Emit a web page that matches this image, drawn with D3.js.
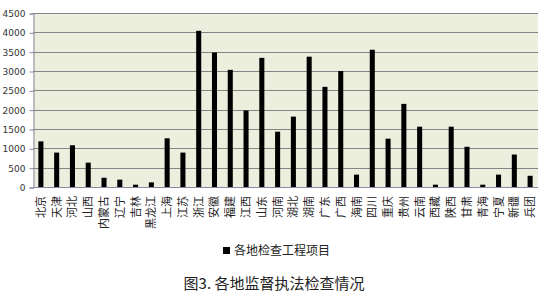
<!DOCTYPE html>
<html>
<head>
<meta charset="utf-8">
<script src="https://cdn.jsdelivr.net/npm/d3@7"></script>
<style>
  body { margin: 0; background: #fff; }
  svg text { font-family: "Noto Sans CJK SC", sans-serif; }
</style>
</head>
<body>
<svg width="548" height="299"></svg>
<script>
// provinces and counts of inspected projects
var provinces = ['北京', '天津', '河北', '山西', '内蒙古', '辽宁', '吉林', '黑龙江', '上海', '江苏',
    '浙江', '安徽', '福建', '江西', '山东', '河南', '湖北', '湖南', '广东', '广西', '海南',
    '四川', '重庆', '贵州', '云南', '西藏', '陕西', '甘肃', '青海', '宁夏', '新疆', '兵团']
var projects = [1180, 890, 1080, 630, 240, 190, 60, 120, 1260, 890,
    4040, 3480, 3030, 1980, 3340, 1430, 1820, 3370, 2590, 3000, 320,
    3550, 1250, 2150, 1560, 60, 1560, 1040, 60, 320, 840, 290]
var yTicks = [0, 500, 1000, 1500, 2000, 2500, 3000, 3500, 4000, 4500]

var svg = d3.select('svg')
var plotL = 33, plotR = 538, plotT = 13, plotB = 187

var x = d3.scaleBand()
    .domain(provinces)
    .range([plotL, plotR])
    .paddingInner(0.68)
    .paddingOuter(0.34)

var y = d3.scaleLinear()
    .domain([0, 4500])
    .range([plotB, plotT])

// plot area
svg.append('rect')
    .attr('x', plotL)
    .attr('y', plotT)
    .attr('width', plotR - plotL)
    .attr('height', plotB - plotT)
    .attr('fill', '#ECEEDE')

// gridlines
svg.append('g')
    .selectAll('line')
    .data(yTicks.slice(1))
    .enter()
    .append('line')
    .attr('x1', plotL)
    .attr('x2', plotR)
    .attr('y1', d => Math.round(y(d)) + 0.5)
    .attr('y2', d => Math.round(y(d)) + 0.5)
    .attr('stroke', '#858585')

// y axis
var yAxis = svg.append('g')
    .attr('transform', 'translate(' + (plotL + 0.5) + ',0.5)')
    .call(d3.axisLeft(y).tickValues(yTicks).tickSize(4).tickFormat(d3.format('d')))
yAxis.select('.domain').attr('stroke', '#8888a8')
yAxis.selectAll('.tick line').attr('stroke', '#8888a8')
yAxis.selectAll('text')
    .attr('x', -8)
    .style('font-family', '"DejaVu Sans", sans-serif')
    .style('font-size', '9px')
    .attr('fill', '#333')

// x axis line
svg.append('line')
    .attr('x1', plotL)
    .attr('x2', plotR)
    .attr('y1', plotB + 0.5)
    .attr('y2', plotB + 0.5)
    .attr('stroke', '#8888a8')

// bars
svg.append('g')
    .selectAll('rect')
    .data(projects)
    .enter()
    .append('rect')
    .attr('x', (d, i) => x(provinces[i]))
    .attr('width', x.bandwidth())
    .attr('y', d => y(d))
    .attr('height', d => plotB - y(d))
    .attr('fill', '#000')

// vertical category labels
svg.append('g')
    .selectAll('text')
    .data(provinces)
    .enter()
    .append('text')
    .text(d => d)
    .attr('transform', d => 'translate(' + (x(d) + x.bandwidth() / 2 + 4) + ',196) rotate(-90)')
    .style('text-anchor', 'end')
    .style('font-size', '11px')
    .attr('fill', '#222')

// legend
svg.append('rect')
    .attr('x', 223)
    .attr('y', 247)
    .attr('width', 7)
    .attr('height', 7)
    .attr('fill', '#000')

svg.append('text')
    .text('各地检查工程项目')
    .attr('x', 234)
    .attr('y', 255)
    .style('font-size', '12px')
    .attr('fill', '#222')

// title
svg.append('text')
    .text('图3. 各地监督执法检查情况')
    .attr('x', 274)
    .attr('y', 289)
    .style('text-anchor', 'middle')
    .style('font-size', '15px')
    .attr('fill', '#222')
</script>
</body>
</html>
